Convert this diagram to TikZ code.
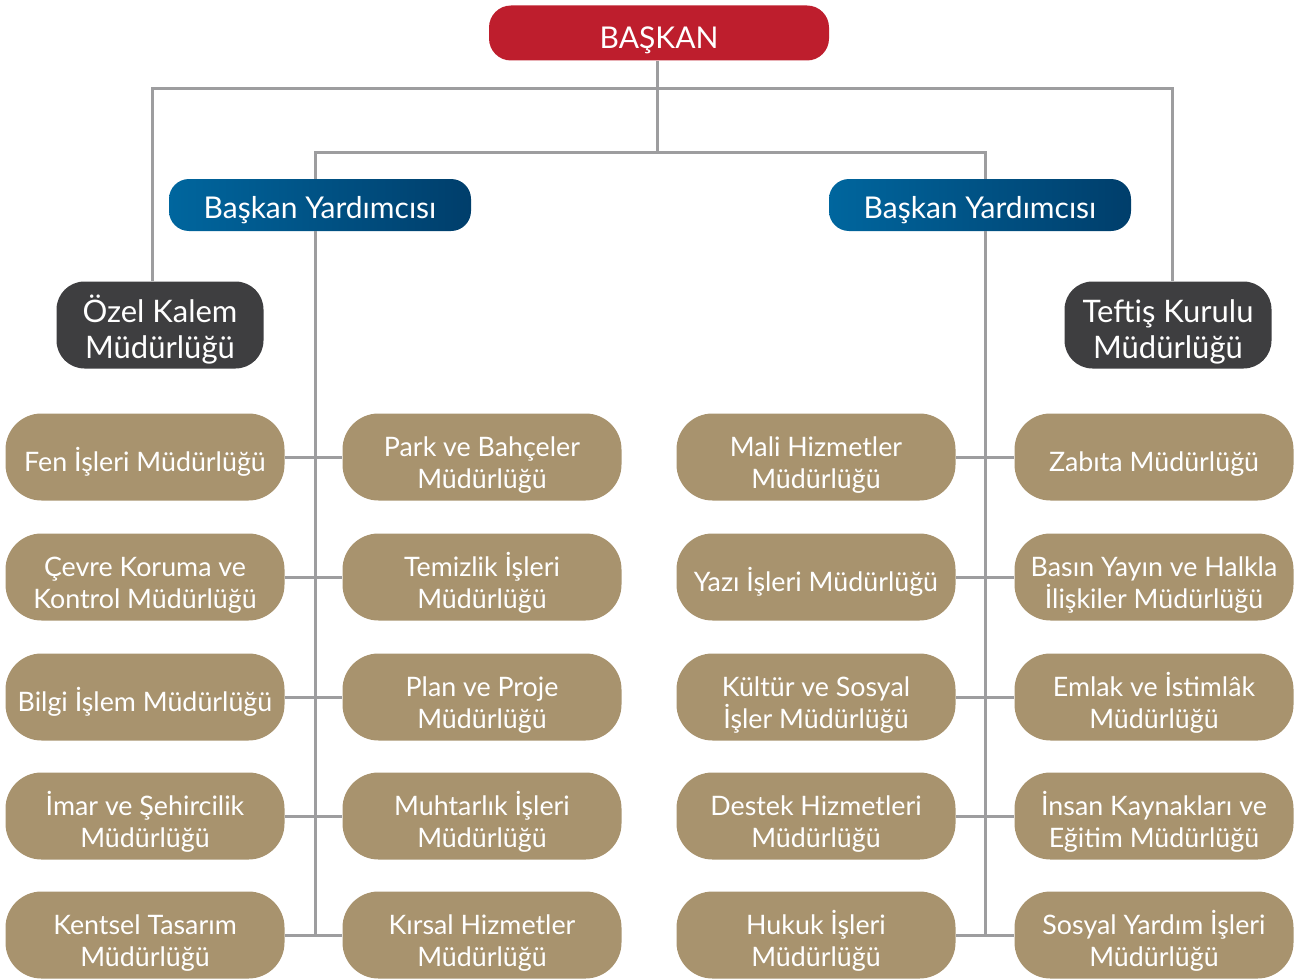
\documentclass[tikz,border=0pt]{standalone}
\usepackage{fontspec}
\setmainfont{Lato}
\definecolor{redbox}{HTML}{BE1E2D}
\definecolor{bluel}{HTML}{00669E}
\definecolor{bluer}{HTML}{003E6B}
\definecolor{darkbox}{HTML}{3E3E40}
\definecolor{tanbox}{HTML}{A8936E}
\definecolor{linegray}{HTML}{9D9D9F}

\begin{document}
\begin{tikzpicture}[x=0.5pt,y=-0.5pt,
    line/.style={draw=linegray, line width=1.5pt},
    struts/.style 2 args={execute at begin node={\vrule width0pt height#1 depth0pt},
                          execute at end node={\vrule width0pt height0pt depth#2}},
    chief/.style={fill=redbox, text=white, rounded corners=11pt, minimum width=170pt, minimum height=27.5pt,
                  inner ysep=0pt, struts={19.8pt}{4pt}, font=\fontsize{15}{18}\selectfont},
    deputy/.style={left color=bluel, right color=bluer, text=white, rounded corners=10pt, minimum width=151pt, minimum height=26pt,
                   inner ysep=0pt, struts={17pt}{4pt}, font=\fontsize{15}{18}\selectfont},
    office/.style={fill=darkbox, text=white, rounded corners=14pt, minimum width=103.5pt, minimum height=43.5pt, inner ysep=0pt,
                   align=center, struts={37pt}{4pt}, font=\fontsize{15.5}{18}\selectfont},
    unitbox/.style={fill=tanbox, text=white, rounded corners=18pt, minimum width=139.5pt, minimum height=43.5pt, inner sep=1pt,
                    align=center, font=\fontsize{13.4}{16}\selectfont},
    unit/.style={unitbox, struts={35.5pt}{4pt}},
    unitone/.style={unitbox, struts={18.5pt}{4pt}}]
    \useasboundingbox (0,0) rectangle (1299,979);

    % Top of the chart
    \node[chief] (baskan) at (659,33) {BAŞKAN};
    \node[deputy] (yard1) at (320,205) {Başkan Yardımcısı};
    \node[deputy] (yard2) at (980,205) {Başkan Yardımcısı};
    \node[office] (ozel) at (160,325) {Özel Kalem\\Müdürlüğü};
    \node[office] (teftis) at (1168,325) {Teftiş Kurulu\\Müdürlüğü};

    % Units, left side
    \node[unitone] (l1) at (145,457) {Fen İşleri Müdürlüğü};
    \node[unit] (l2) at (145,577) {Çevre Koruma ve\\Kontrol Müdürlüğü};
    \node[unitone] (l3) at (145,697) {Bilgi İşlem Müdürlüğü};
    \node[unit] (l4) at (145,816) {İmar ve Şehircilik\\Müdürlüğü};
    \node[unit] (l5) at (145,935) {Kentsel Tasarım\\Müdürlüğü};
    \node[unit] (m1) at (482,457) {Park ve Bahçeler\\Müdürlüğü};
    \node[unit] (m2) at (482,577) {Temizlik İşleri\\Müdürlüğü};
    \node[unit] (m3) at (482,697) {Plan ve Proje\\Müdürlüğü};
    \node[unit] (m4) at (482,816) {Muhtarlık İşleri\\Müdürlüğü};
    \node[unit] (m5) at (482,935) {Kırsal Hizmetler\\Müdürlüğü};

    % Units, right side
    \node[unit] (n1) at (816,457) {Mali Hizmetler\\Müdürlüğü};
    \node[unitone] (n2) at (816,577) {Yazı İşleri Müdürlüğü};
    \node[unit] (n3) at (816,697) {Kültür ve Sosyal\\İşler Müdürlüğü};
    \node[unit] (n4) at (816,816) {Destek Hizmetleri\\Müdürlüğü};
    \node[unit] (n5) at (816,935) {Hukuk İşleri\\Müdürlüğü};
    \node[unitone] (r1) at (1154,457) {Zabıta Müdürlüğü};
    \node[unit] (r2) at (1154,577) {Basın Yayın ve Halkla\\İlişkiler Müdürlüğü};
    \node[unit] (r3) at (1154,697) {Emlak ve İstimlâk\\Müdürlüğü};
    \node[unit] (r4) at (1154,816) {İnsan Kaynakları ve\\Eğitim Müdürlüğü};
    \node[unit] (r5) at (1154,935) {Sosyal Yardım İşleri\\Müdürlüğü};

    % Connectors
    \coordinate (top) at (657,89);
    \coordinate (mid) at (657,152);
    \draw[line] (baskan.south -| mid) -- (mid);
    \draw[line] ([xshift=-4pt]ozel.north) |- (top) -| ([xshift=2pt]teftis.north);
    \draw[line] ([xshift=-2.5pt]yard1.north) |- (mid) -| ([xshift=2.5pt]yard2.north);
    \draw[line] ([xshift=-2.5pt]yard1.south) -- ([xshift=-2.5pt]yard1.south |- l5);
    \draw[line] ([xshift=2.5pt]yard2.south) -- ([xshift=2.5pt]yard2.south |- n5);
    \draw[line] (l1) -- (m1);
    \draw[line] (l2) -- (m2);
    \draw[line] (l3) -- (m3);
    \draw[line] (l4) -- (m4);
    \draw[line] (l5) -- (m5);
    \draw[line] (n1) -- (r1);
    \draw[line] (n2) -- (r2);
    \draw[line] (n3) -- (r3);
    \draw[line] (n4) -- (r4);
    \draw[line] (n5) -- (r5);
\end{tikzpicture}
\end{document}
